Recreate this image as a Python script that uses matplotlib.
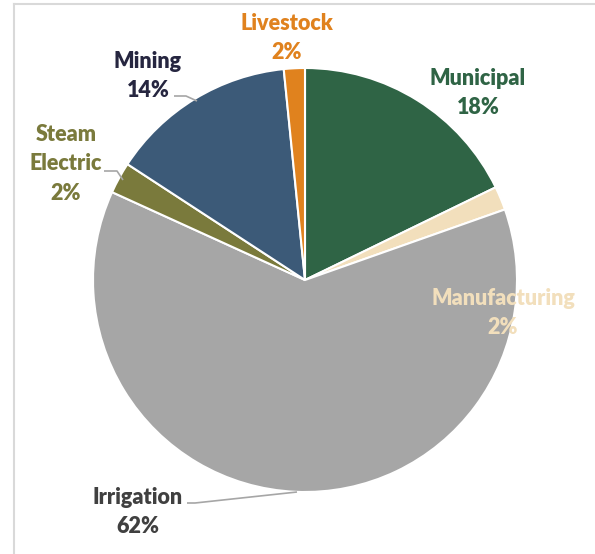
import matplotlib
matplotlib.use("Agg")
import matplotlib.pyplot as plt
from matplotlib.lines import Line2D

categories = ["Municipal", "Manufacturing", "Irrigation", "Steam\nElectric", "Mining", "Livestock"]
values = [17.8, 1.8, 62.2, 2.4, 14.2, 1.6]
colors = ["#2F6445", "#F2DFBC", "#A6A6A6", "#7A7A3C", "#3C5A78", "#E0821E"]
label_colors = ["#2F6445", "#F2DFBC", "#404040", "#7A7A3C", "#262640", "#E0821E"]

W, H = 595, 554
CX, CY, R = 305, 280, 212

fig = plt.figure(figsize=(W / 100, H / 100), dpi=100)
ax = fig.add_axes([0, 0, 1, 1])

wedges, _ = ax.pie(values, colors=colors, startangle=90, counterclock=False,
                   radius=1.0, wedgeprops=dict(edgecolor="white", linewidth=1.5))
ax.set_xlim(-CX / R, (W - CX) / R)
ax.set_ylim(-(H - CY) / R, CY / R)
ax.set_aspect("auto")
ax.axis("off")


def px(x, y):
    return ((x - CX) / R, (CY - y) / R)


# label positions (pixel centers) in the same order as categories
label_pos = [(478, 93), (503, 313), (138, 512), (66, 164), (148, 76), (287, 38)]
fs = 15.5
for name, v, c, (lx, ly) in zip(categories, values, label_colors, label_pos):
    txt = f"{name}\n{v:.0f}%"
    ax.text(*px(lx, ly), txt, ha="center", va="center", fontsize=fs,
            fontweight="heavy", color=c, family=["Lato", "DejaVu Sans"],
            linespacing=1.5)

# leader lines
lc = "#A6A6A6"
leaders = [
    [(104, 171), (117, 171), (123, 180)],
    [(174, 96), (186, 96), (197, 101)],
    [(187, 503), (195, 503), (297, 492)],
]
for pts in leaders:
    xs, ys = zip(*[px(a, b) for a, b in pts])
    ax.plot(xs, ys, color=lc, lw=1.2, solid_capstyle="butt")

# chart frame (left and top edges)
fig.add_artist(Line2D([14 / W, 14 / W], [0, 1 - 4 / H], color="#D9D9D9", lw=1.5))
fig.add_artist(Line2D([14 / W, 594 / W], [1 - 4 / H, 1 - 4 / H], color="#D9D9D9", lw=1.5))

fig.savefig("out.png", dpi=100)
